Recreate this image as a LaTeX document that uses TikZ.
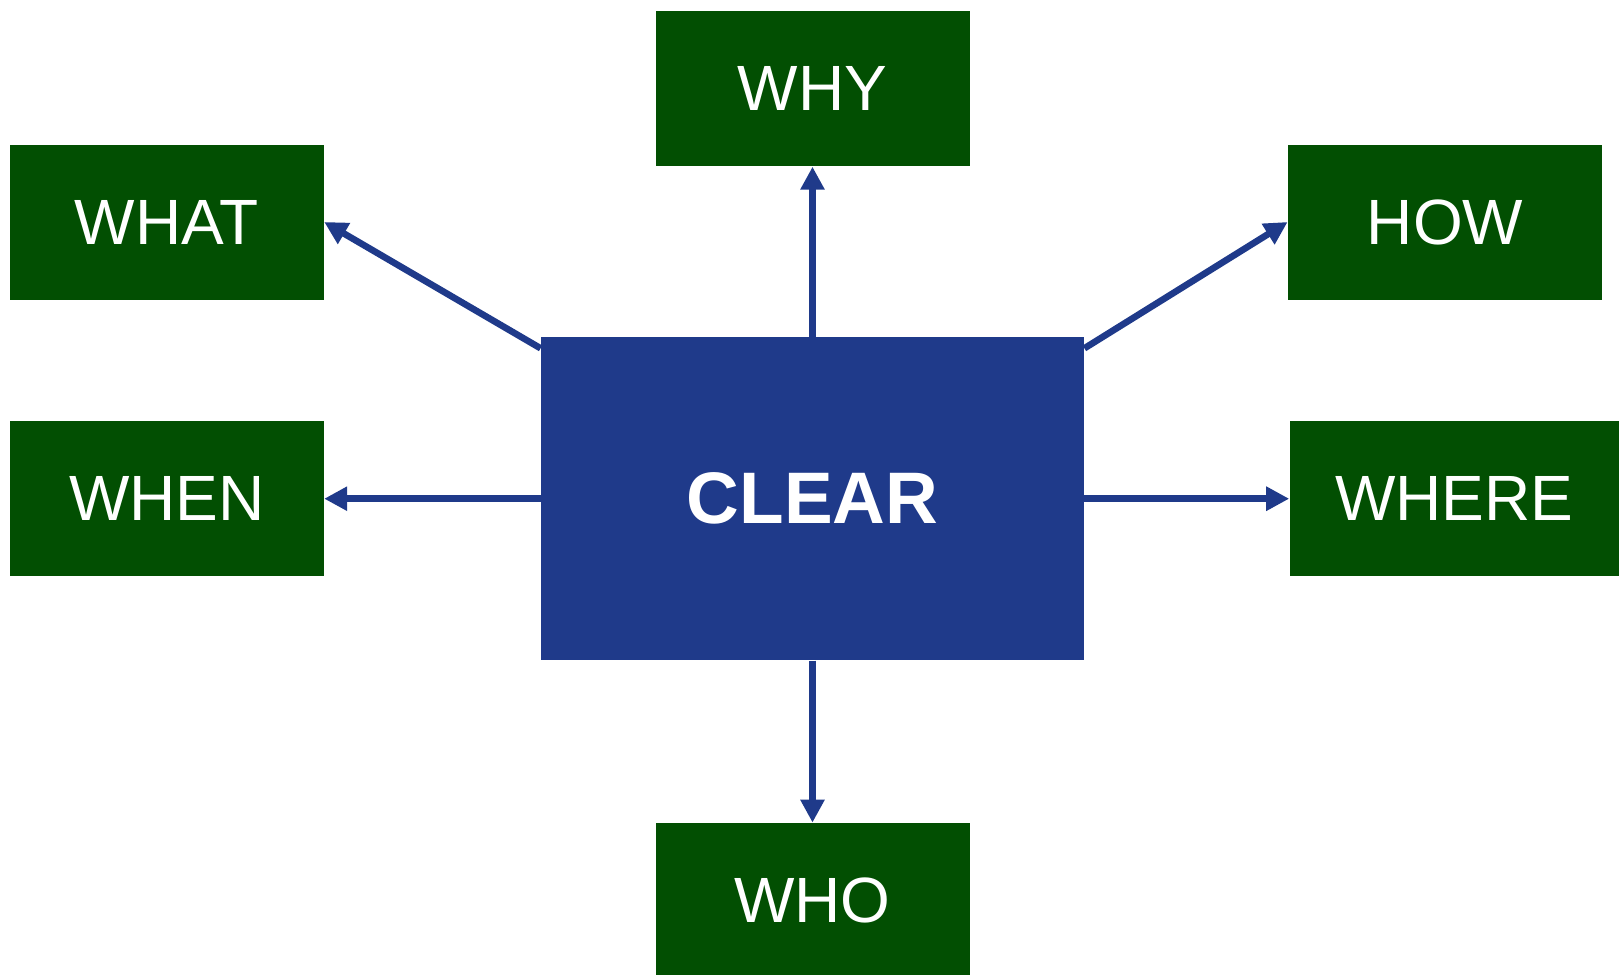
\documentclass[tikz,border=0pt]{standalone}
\usepackage{fontspec}
\setmainfont{Liberation Sans}
\usetikzlibrary{arrows.meta}
\definecolor{qgreen}{HTML}{024F02}
\definecolor{qblue}{HTML}{1F3A8A}

\begin{document}
\begin{tikzpicture}[x=0.5pt,y=-0.5pt,
            qbox/.style={fill=qgreen, text=white, inner sep=0, minimum width=157pt, minimum height=77.5pt, font=\fontsize{32}{38}\selectfont},
            hub/.style={fill=qblue, text=white, inner sep=0, minimum width=271.5pt, minimum height=161.5pt, font=\fontsize{36.5}{43}\selectfont\bfseries},
            link/.style={line width=3.3pt, color=qblue, -{Triangle[length=11.5pt,width=11.5pt]}}]
            \useasboundingbox (0,0) rectangle (1619,975);
            \node[hub] (clear) at (812.5,498.7) {CLEAR};
            \node[qbox] (why) at (812.5,88.8) {WHY};
            \node[qbox] (what) at (166.8,222) {WHAT};
            \node[qbox] (how) at (1445,222) {HOW};
            \node[qbox] (when) at (166.8,498.7) {WHEN};
            \node[qbox, minimum width=164.7pt] (where) at (1454.3,498.7) {WHERE};
            \node[qbox] (who) at (812.5,900.5) {WHO};
            \draw[link] (clear.north) -- (why.south);
            \draw[link] (clear.south) -- (who.north);
            \draw[link] (clear.west) -- (when.east);
            \draw[link] (clear.east) -- (where.west);
            \draw[link] ([yshift=-5.75pt]clear.north west) -- (what.east);
            \draw[link] ([yshift=-5.75pt]clear.north east) -- (how.west);
\end{tikzpicture}
\end{document}
